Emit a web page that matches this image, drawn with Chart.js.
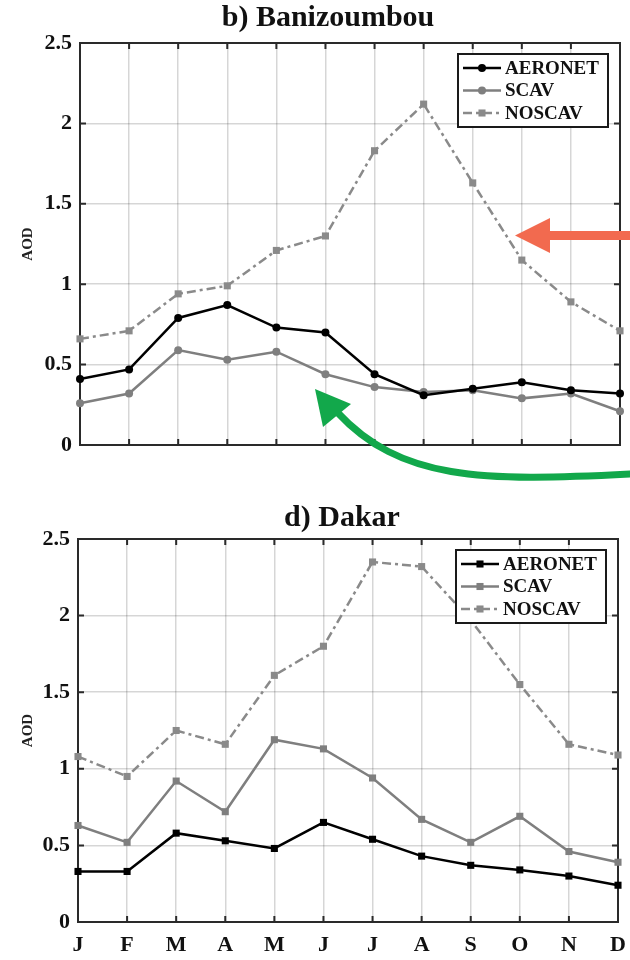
<!DOCTYPE html>
<html>
<head>
<meta charset="utf-8">
<script src="https://cdn.jsdelivr.net/npm/chart.js@4.4.1/dist/chart.umd.min.js"></script>
<style>
  html, body { margin: 0; padding: 0; background: #fff; }
  #wrap { position: relative; width: 630px; height: 960px; }
  canvas { position: absolute; left: 0; }
  #topChart { top: 0; }
  #botChart { top: 460px; }
  #arrows { top: 0; pointer-events: none; }
</style>
</head>
<body>
<div id="wrap">
  <canvas id="topChart" width="630" height="460"></canvas>
  <canvas id="botChart" width="630" height="500"></canvas>
  <canvas id="arrows" width="630" height="960"></canvas>
</div>
<script>
// ---- data ----
const months = ["J", "F", "M", "A", "M", "J", "J", "A", "S", "O", "N", "D"];

// b) Banizoumbou
const aeronetBani = [0.41, 0.47, 0.79, 0.87, 0.73, 0.70, 0.44, 0.31, 0.35, 0.39, 0.34, 0.32];
const scavBani    = [0.26, 0.32, 0.59, 0.53, 0.58, 0.44, 0.36, 0.33, 0.34, 0.29, 0.32, 0.21];
const noscavBani  = [0.66, 0.71, 0.94, 0.99, 1.21, 1.30, 1.83, 2.12, 1.63, 1.15, 0.89, 0.71];

// d) Dakar
const aeronetDakar = [0.33, 0.33, 0.58, 0.53, 0.48, 0.65, 0.54, 0.43, 0.37, 0.34, 0.30, 0.24];
const scavDakar    = [0.63, 0.52, 0.92, 0.72, 1.19, 1.13, 0.94, 0.67, 0.52, 0.69, 0.46, 0.39];
const noscavDakar  = [1.08, 0.95, 1.25, 1.16, 1.61, 1.80, 2.35, 2.32, 1.97, 1.55, 1.16, 1.09];

const SERIF = '"Liberation Serif", "Times New Roman", serif';

// ---- small plugins ----
// matlab-like box with inward ticks
const frameTicks = {
  id: "frameTicks",
  beforeDatasetsDraw(chart) {
    const { ctx, chartArea: a, scales: { x, y } } = chart;
    ctx.save();
    ctx.strokeStyle = "#2a2a2a";
    ctx.lineWidth = 2;
    ctx.strokeRect(a.left, a.top, a.right - a.left, a.bottom - a.top);
    const L = 6;
    ctx.beginPath();
    x.ticks.forEach((t, i) => {
      const px = x.getPixelForTick(i);
      ctx.moveTo(px, a.bottom); ctx.lineTo(px, a.bottom - L);
      ctx.moveTo(px, a.top); ctx.lineTo(px, a.top + L);
    });
    y.ticks.forEach((t, i) => {
      const py = y.getPixelForTick(i);
      ctx.moveTo(a.left, py); ctx.lineTo(a.left + L, py);
      ctx.moveTo(a.right, py); ctx.lineTo(a.right - L, py);
    });
    ctx.stroke();
    ctx.restore();
  }
};

const panelTitle = {
  id: "panelTitle",
  afterDraw(chart, args, o) {
    const ctx = chart.ctx;
    ctx.save();
    ctx.font = "bold " + o.size + "px " + SERIF;
    ctx.fillStyle = "#111";
    ctx.textAlign = "center";
    ctx.textBaseline = "middle";
    ctx.fillText(o.text, o.x, o.y);
    ctx.restore();
  }
};

// boxed legend in the upper right corner, like the matlab one
const boxLegend = {
  id: "boxLegend",
  afterDatasetsDraw(chart, args, o) {
    const { ctx, chartArea: a } = chart;
    const w = 150, h = 73;
    const left = a.right - o.right - w, top = a.top + o.top;
    ctx.save();
    ctx.fillStyle = "#fff";
    ctx.fillRect(left, top, w, h);
    ctx.strokeStyle = "#1a1a1a";
    ctx.lineWidth = 2;
    ctx.strokeRect(left, top, w, h);
    chart.data.datasets.forEach((ds, i) => {
      const cy = top + 14 + i * 22.5;
      ctx.strokeStyle = ds.borderColor;
      ctx.lineWidth = ds.borderWidth;
      ctx.setLineDash(ds.borderDash || []);
      ctx.beginPath();
      ctx.moveTo(left + 5, cy);
      ctx.lineTo(left + 43, cy);
      ctx.stroke();
      ctx.setLineDash([]);
      ctx.fillStyle = ds.borderColor;
      if (ds.pointStyle === "rect") {
        const s = ds.pointRadius * Math.SQRT1_2;
        ctx.fillRect(left + 24 - s, cy - s, 2 * s, 2 * s);
      } else {
        ctx.beginPath();
        ctx.arc(left + 24, cy, ds.pointRadius, 0, Math.PI * 2);
        ctx.fill();
      }
      ctx.fillStyle = "#111";
      ctx.font = "bold 19px " + SERIF;
      ctx.textAlign = "left";
      ctx.textBaseline = "middle";
      ctx.fillText(ds.label, left + 47, cy + 1);
    });
    ctx.restore();
  }
};

function series(label, data, color, dash, style) {
  return {
    label,
    data,
    borderColor: color,
    backgroundColor: color,
    pointBackgroundColor: color,
    borderWidth: 2.5,
    borderDash: dash,
    pointStyle: style,
    pointRadius: style === "rect" ? 5 : 4,
    pointBorderWidth: 0,
    tension: 0,
    clip: false
  };
}

function makePanel(id, cfg) {
  return new Chart(document.getElementById(id), {
    type: "line",
    data: {
      labels: months,
      datasets: [
        series("AERONET", cfg.aeronet, "#000000", [], cfg.marks[0]),
        series("SCAV", cfg.scav, "#7f7f7f", [], cfg.marks[1]),
        series("NOSCAV", cfg.noscav, "#8a8a8a", [9, 4, 3, 4], cfg.marks[2])
      ]
    },
    options: {
      responsive: false,
      animation: false,
      events: [],
      layout: { padding: { top: cfg.padTop, right: cfg.padRight, left: 0, bottom: 0 } },
      plugins: {
        legend: { display: false },
        tooltip: { enabled: false },
        panelTitle: cfg.title,
        boxLegend: { right: 12, top: 11 }
      },
      scales: {
        x: {
          type: "category",
          offset: false,
          grid: { color: "rgba(0,0,0,0.16)", lineWidth: 1.5, drawTicks: false },
          border: { display: false },
          ticks: {
            display: cfg.showX,
            autoSkip: false,
            maxRotation: 0,
            padding: 10,
            color: "#111",
            font: { family: SERIF, size: 22, weight: "bold" }
          },
          afterFit: s => {
            s.height = cfg.xHeight;
            s.paddingLeft = 0;   // don't let the D label shrink the plot
            s.paddingRight = 0;
          }
        },
        y: {
          min: 0,
          max: 2.5,
          grid: { color: "rgba(0,0,0,0.16)", lineWidth: 1.5, drawTicks: false },
          border: { display: false },
          ticks: {
            stepSize: 0.5,
            padding: 8,
            color: "#111",
            font: { family: SERIF, size: 22, weight: "bold" },
            callback: v => String(+v.toFixed(1))
          },
          title: {
            display: true,
            text: "AOD",
            color: "#222",
            font: { family: SERIF, size: 15, weight: "bold" },
            padding: { top: 19, bottom: 0 }
          },
          afterFit: s => {
            s.width = cfg.yWidth;
            s.paddingTop = 0;
            s.paddingBottom = 0;
          }
        }
      }
    },
    plugins: [frameTicks, boxLegend, panelTitle]
  });
}

makePanel("topChart", {
  aeronet: aeronetBani, scav: scavBani, noscav: noscavBani,
  marks: ["circle", "circle", "rect"],
  padTop: 43, padRight: 10, yWidth: 80, xHeight: 15, showX: false,
  title: { text: "b) Banizoumbou", x: 328, y: 18, size: 30 }
});

makePanel("botChart", {
  aeronet: aeronetDakar, scav: scavDakar, noscav: noscavDakar,
  marks: ["rect", "rect", "rect"],
  padTop: 79, padRight: 12, yWidth: 78, xHeight: 38, showX: true,
  title: { text: "d) Dakar", x: 342, y: 58, size: 30 }
});

// ---- annotation arrows over the figure ----
const actx = document.getElementById("arrows").getContext("2d");
// red arrow
actx.fillStyle = "#f26a4f";
actx.fillRect(546, 231, 84, 9);
actx.beginPath();
actx.moveTo(515, 235.5);
actx.lineTo(550, 218);
actx.lineTo(550, 253);
actx.closePath();
actx.fill();
// green curved arrow
actx.strokeStyle = "#12a84b";
actx.fillStyle = "#12a84b";
actx.lineWidth = 7;
actx.beginPath();
actx.moveTo(632, 474);
actx.bezierCurveTo(480, 482, 400, 480, 337, 412);
actx.stroke();
actx.beginPath();
actx.moveTo(315, 389);
actx.lineTo(323, 427);
actx.lineTo(351, 404);
actx.closePath();
actx.fill();
</script>
</body>
</html>
